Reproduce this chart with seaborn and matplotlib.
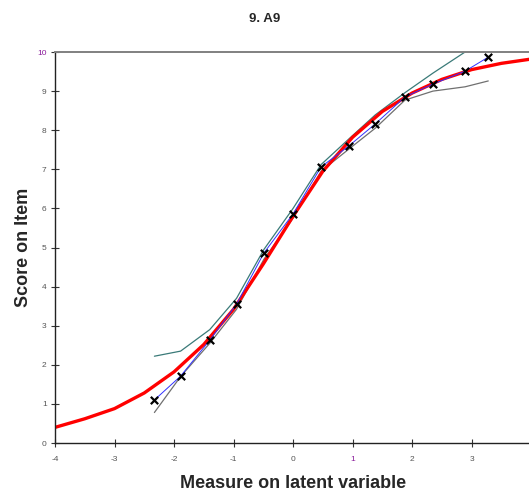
import matplotlib
matplotlib.use('Agg')
import numpy as np
import pandas as pd
import matplotlib.pyplot as plt
import seaborn as sns

# Curva esperada (modelo)
model_x = [-4.0, -3.5, -3.0, -2.5, -2.0, -1.5, -1.0, -0.5, 0.0, 0.5, 1.0, 1.5, 2.0, 2.5, 3.0, 3.5, 4.0]
model_y = [0.40, 0.62, 0.88, 1.28, 1.82, 2.52, 3.42, 4.58, 5.80, 6.95, 7.82, 8.48, 8.95, 9.30, 9.55, 9.71, 9.82]

# Pontos observados (classes)
obs_x = [-2.33, -1.89, -1.40, -0.95, -0.49, 0.00, 0.47, 0.94, 1.38, 1.88, 2.35, 2.89, 3.28]
obs_y = [1.10, 1.71, 2.63, 3.55, 4.86, 5.86, 7.06, 7.60, 8.16, 8.85, 9.18, 9.51, 9.87]
upper_y = [2.22, 2.35, 2.90, 3.70, 4.95, 6.00, 7.12, 7.78, 8.39, 8.96, 9.46, 10.00, 10.40]
lower_y = [0.78, 1.70, 2.55, 3.42, 4.70, 5.75, 6.95, 7.52, 8.05, 8.77, 9.00, 9.11, 9.26]

x_ticks = [-4, -3, -2, -1, 0, 1, 2, 3, 4]
y_ticks = [0, 1, 2, 3, 4, 5, 6, 7, 8, 9, 10]

sns.set_style('white')
plt.rcParams['font.family'] = ['Liberation Sans', 'DejaVu Sans']
plt.rcParams['axes.unicode_minus'] = False

fig = plt.figure(figsize=(5.29, 4.93), dpi=100)
ax = fig.add_axes([0.104, 0.1014, 0.900, 0.7931])

sns.lineplot(x=obs_x, y=upper_y, color='#3a7a78', linewidth=0.9, sort=False, ax=ax)
sns.lineplot(x=obs_x, y=lower_y, color='#707070', linewidth=0.9, sort=False, ax=ax)
sns.lineplot(x=model_x, y=model_y, color='#ff0000', linewidth=2.4, sort=False, ax=ax)
sns.lineplot(x=obs_x, y=obs_y, color='#3030ff', linewidth=0.7, sort=False, ax=ax)
sns.scatterplot(x=obs_x, y=obs_y, marker='x', color='black', s=28, linewidth=1.6, ax=ax, zorder=5)

ax.set_xlim(-4, 4)
ax.set_ylim(0, 10)
ax.set_xticks(x_ticks)
ax.set_yticks(y_ticks)
ax.tick_params(axis='both', direction='inout', length=6, width=0.8, color='#333333',
               labelsize=6, labelcolor='#555555', left=True, bottom=True)
ax.tick_params(axis='x', pad=6)
ax.tick_params(axis='y', pad=3)
# alguns rótulos aparecem em roxo na imagem original
ax.get_xticklabels()[5].set_color('#8a1a9a')
ax.get_yticklabels()[10].set_color('#8a1a9a')

for side in ['left', 'bottom']:
    ax.spines[side].set_color('#222222')
    ax.spines[side].set_linewidth(1.0)
ax.spines['top'].set_color('#808080')
ax.spines['top'].set_linewidth(1.4)
ax.spines['right'].set_visible(False)

ax.set_xlabel('Measure on latent variable', fontsize=13, fontweight='bold', labelpad=9)
ax.set_ylabel('Score on Item', fontsize=13, fontweight='bold', labelpad=4)
fig.text(0.5, 0.962, '9. A9', ha='center', va='center', fontsize=9.5, fontweight='bold')

plt.savefig('out.png', dpi=100)
plt.close()
